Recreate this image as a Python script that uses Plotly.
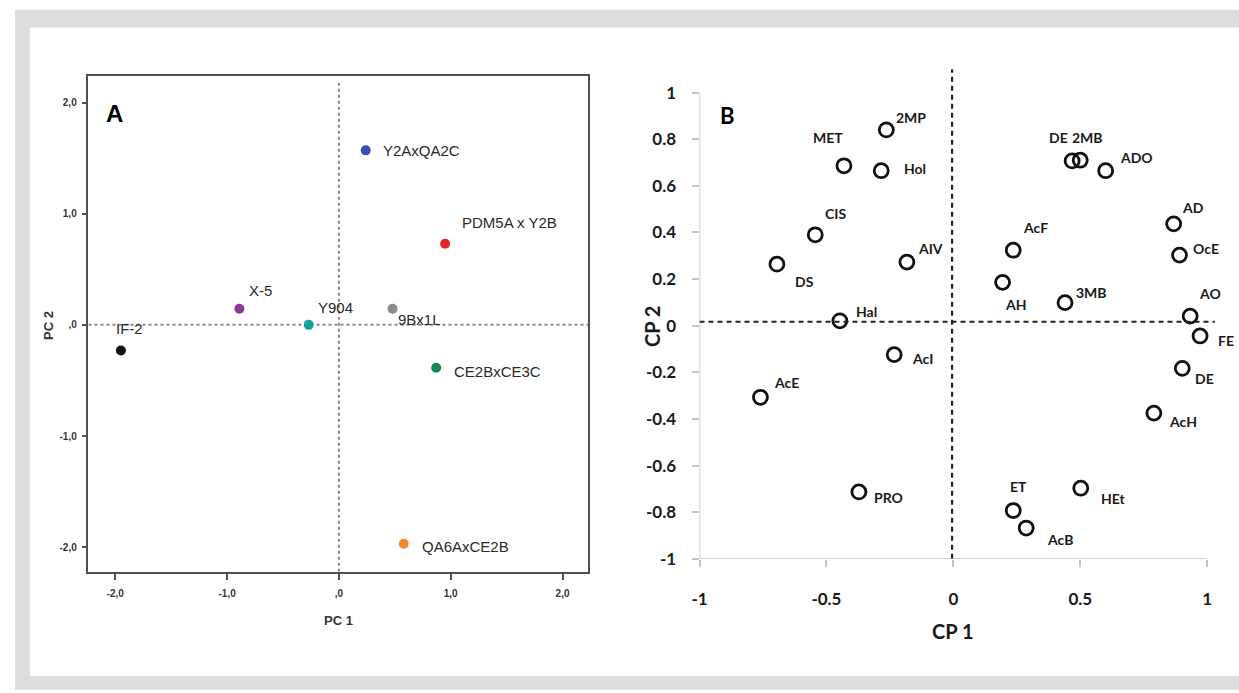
import plotly.graph_objects as go

W, H = 1239, 693

# ---------------- Panel A data ----------------
a_names = ["Y2AxQA2C", "PDM5A x Y2B", "X-5", "Y904", "9Bx1L", "IF-2", "CE2BxCE3C", "QA6AxCE2B"]
a_pc1 = [0.24, 0.95, -0.89, -0.27, 0.48, -1.95, 0.87, 0.58]
a_pc2 = [1.57, 0.73, 0.145, 0.0, 0.145, -0.23, -0.385, -1.97]
a_colors = ["#3b4cc0", "#e3262d", "#8b3a8f", "#17a39b", "#8a8a8a", "#111111", "#138a52", "#f08a2c"]
a_tickvals = [-2, -1, 0, 1, 2]
a_ticktext = ["-2,0", "-1,0", ",0", "1,0", "2,0"]

# ---------------- Panel B data ----------------
b_names = ["2MP", "MET", "Hol", "DE", "2MB", "ADO", "CIS", "DS", "AIV", "AcF", "AH", "3MB",
           "AD", "OcE", "AO", "FE", "Hal", "AcI", "AcE", "DE", "AcH", "PRO", "ET", "AcB", "HEt"]
b_cp1 = [-0.264, -0.431, -0.284, 0.468, 0.50, 0.60, -0.544, -0.695, -0.183, 0.236, 0.194, 0.44,
         0.868, 0.891, 0.933, 0.972, -0.447, -0.233, -0.76, 0.902, 0.79, -0.372, 0.236, 0.287, 0.502]
b_cp2 = [0.84, 0.686, 0.665, 0.707, 0.71, 0.665, 0.39, 0.264, 0.273, 0.324, 0.186, 0.099,
         0.437, 0.303, 0.041, -0.044, 0.021, -0.124, -0.307, -0.183, -0.375, -0.713, -0.793, -0.868, -0.697]
b_xticks = [-1, -0.5, 0, 0.5, 1]
b_xticktext = ["-1", "-0.5", "0", "0.5", "1"]
b_yticks = [-1, -0.8, -0.6, -0.4, -0.2, 0, 0.2, 0.4, 0.6, 0.8, 1]
b_yticktext = ["-1", "-0.8", "-0.6", "-0.4", "-0.2", "0", "0.2", "0.4", "0.6", "0.8", "1"]
b_hline_y = 0.017

# label placement (anchor, dx px, dy px; dy positive = down)
a_lab = [("left", 15, 0), ("left", 15, -21), ("left", 8, -18), ("left", 7, -17),
         ("left", 3, 11), ("left", -7, -22), ("left", 16, 4), ("left", 16, 3)]
b_lab = [("left", 8, -12), ("center", -16, -28), ("left", 21, -2), ("right", -2, -23), ("left", -10, -23),
         ("left", 12, -13), ("left", 8, -21), ("left", 16, 17), ("left", 9, -14), ("left", 8, -23),
         ("center", 13, 22), ("left", 9, -10), ("left", 6, -16), ("left", 11, -7), ("left", 7, -23),
         ("left", 16, 5), ("left", 14, -9), ("left", 16, 4), ("left", 12, -15), ("left", 11, 10),
         ("left", 13, 8), ("left", 13, 6), ("center", 5, -24), ("left", 19, 11), ("left", 18, 10)]


def px(x):
    return x / W


def py(y):
    return 1 - y / H


fig = go.Figure()

fig.add_trace(go.Scatter(
    x=a_pc1, y=a_pc2, mode="markers", xaxis="x", yaxis="y",
    marker=dict(size=10, color=a_colors, line=dict(width=0)),
    hoverinfo="skip", showlegend=False))

fig.add_trace(go.Scatter(
    x=b_cp1, y=b_cp2, mode="markers", xaxis="x2", yaxis="y2",
    marker=dict(size=14, color="#111111", symbol="circle-open",
                line=dict(width=2.8, color="#111111")),
    hoverinfo="skip", showlegend=False))

annotations = []
fontA = "Liberation Sans, Arial, sans-serif"
fontB = "Lato, Open Sans, sans-serif"

for n, xv, yv, (anc, dx, dy) in zip(a_names, a_pc1, a_pc2, a_lab):
    annotations.append(dict(x=xv, y=yv, xref="x", yref="y", text=n, showarrow=False,
                            xanchor=anc, yanchor="middle", xshift=dx, yshift=-dy,
                            font=dict(family=fontA, size=15, color="#2a2a2a")))

for n, xv, yv, (anc, dx, dy) in zip(b_names, b_cp1, b_cp2, b_lab):
    annotations.append(dict(x=xv, y=yv, xref="x2", yref="y2", text="<b>%s</b>" % n, showarrow=False,
                            xanchor=anc, yanchor="middle", xshift=dx, yshift=-dy,
                            font=dict(family=fontB, size=14, color="#1a1a1a")))


def title(x, y, text, family, size, color, angle=0):
    return dict(x=px(x), y=py(y), xref="paper", yref="paper", text=text, showarrow=False,
                xanchor="center", yanchor="middle", textangle=angle,
                font=dict(family=family, size=size, color=color))


# panel letters and axis titles
annotations += [
    title(107, 115, "<b>A</b>", fontA, 24, "#000000"),
    title(724, 117, "<b>B</b>", fontB, 22, "#000000"),
    title(333, 630, "<b>PC 1</b>", fontA, 13, "#333333"),
    title(40, 330, "<b>PC 2</b>", fontA, 13, "#333333", -90),
    title(951, 640, "<b>CP 1</b>", fontB, 20, "#1a1a1a"),
    title(648, 331, "<b>CP 2</b>", fontB, 20, "#1a1a1a", -90),
]

shapes = [
    # gray frame
    dict(type="rect", xref="paper", yref="paper", x0=px(7), x1=1.01, y0=-0.01, y1=py(10),
         fillcolor="#dddddd", line=dict(width=0), layer="below"),
    dict(type="rect", xref="paper", yref="paper", x0=px(22), x1=1.01, y0=py(686), y1=py(28),
         fillcolor="#ffffff", line=dict(width=0), layer="below"),
    # panel A reference lines
    dict(type="line", xref="x", yref="y", x0=-2.24, x1=2.23, y0=0, y1=0,
         line=dict(color="#8a8a8a", width=2, dash="3px,3px"), layer="below"),
    dict(type="line", xref="x", yref="y", x0=0, x1=0, y0=-2.22, y1=2.19,
         line=dict(color="#8a8a8a", width=2, dash="3px,3px"), layer="below"),
    # panel B axis lines
    dict(type="line", xref="x2", yref="y2", x0=-1, x1=1, y0=-1, y1=-1,
         line=dict(color="#c4c4c4", width=1.6)),
    dict(type="line", xref="x2", yref="y2", x0=-1, x1=-1, y0=-1, y1=1,
         line=dict(color="#c4c4c4", width=1.6)),
    # panel B reference lines
    dict(type="line", xref="x2", yref="y2", x0=-1, x1=1.03, y0=b_hline_y, y1=b_hline_y,
         line=dict(color="#222222", width=2.2, dash="5px,4px")),
    dict(type="line", xref="x2", yref="y2", x0=-0.005, x1=-0.005, y0=-1, y1=1.10,
         line=dict(color="#222222", width=2.2, dash="5px,4px")),
]

fig.update_layout(
    width=W, height=H,
    margin=dict(l=0, r=0, t=0, b=0),
    paper_bgcolor="#ffffff", plot_bgcolor="rgba(0,0,0,0)",
    showlegend=False,
    annotations=annotations, shapes=shapes,
    xaxis=dict(domain=[px(81), px(584)], range=[-2.24, 2.23], anchor="y",
               showgrid=False, zeroline=False, showline=True, mirror=True,
               linecolor="#505050", linewidth=1.5, ticks="outside", ticklen=7, tickwidth=1.5,
               tickcolor="#505050", tickvals=a_tickvals, ticktext=a_ticktext,
               ticklabelstandoff=5,
               tickfont=dict(family=fontA, size=10, color="#333333", weight="bold")),
    yaxis=dict(domain=[py(580), py(77)], range=[-2.22, 2.24], anchor="x",
               showgrid=False, zeroline=False, showline=True, mirror=True,
               linecolor="#505050", linewidth=1.5, ticks="outside", ticklen=5, tickwidth=1.5,
               tickcolor="#505050", tickvals=a_tickvals, ticktext=a_ticktext,
               ticklabelstandoff=3,
               tickfont=dict(family=fontA, size=10, color="#333333", weight="bold")),
    xaxis2=dict(domain=[px(696), px(1222.3)], range=[-1, 1.06], anchor="y2",
                showgrid=False, zeroline=False, showline=False,
                ticks="outside", ticklen=7, tickwidth=1.5, tickcolor="#c4c4c4",
                tickvals=b_xticks, ticktext=b_xticktext,
                ticklabelstandoff=18,
                tickfont=dict(family=fontB, size=17, color="#1a1a1a", weight="bold")),
    yaxis2=dict(domain=[py(567), py(65.6)], range=[-1, 1.12], anchor="x2",
                showgrid=False, zeroline=False, showline=False,
                ticks="outside", ticklen=7, tickwidth=1.5, tickcolor="#c4c4c4",
                tickvals=b_yticks, ticktext=b_yticktext,
                ticklabelstandoff=12,
                tickfont=dict(family=fontB, size=17, color="#1a1a1a", weight="bold")),
)

fig.write_html("out.html", config={"displayModeBar": False},
               post_script="document.body.style.margin='0';document.body.style.overflow='hidden';")
